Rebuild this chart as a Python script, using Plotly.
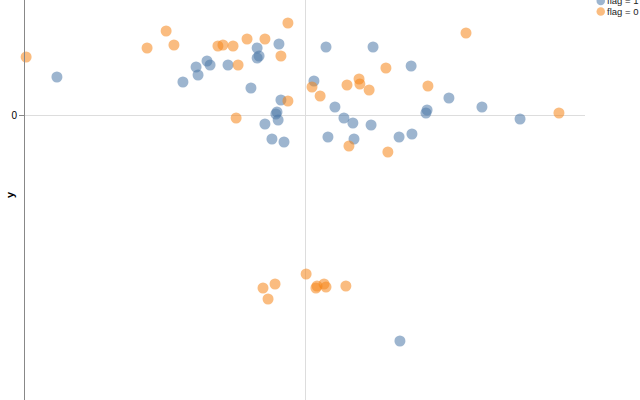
import plotly.graph_objects as go

# flag = 1 series
x_flag1 = [-8.86, -4.36, -3.89, -3.82, -3.5, -3.39, -2.75, -1.93, -1.71, -1.71, -1.64,
           -1.43, -1.18, -0.93, -0.86, -1.04, -1.0, -0.96, -0.75, 0.32, 0.75, 2.43,
           3.79, 5.14, 1.07, 6.32, 4.36, 4.32, 1.39, 1.71, 2.36, 7.68, 0.82, 1.75,
           3.36, 3.82, 3.39]
y_flag1 = [1.9, 1.65, 2.4, 2.0, 2.7, 2.5, 2.5, 1.35, 3.35, 2.85, 2.95,
           -0.45, -1.2, 3.55, 0.75, 0.05, 0.15, -0.25, -1.35, 1.7, 3.4, 3.4,
           2.45, 0.85, 0.4, 0.4, 0.25, 0.1, -0.15, -0.4, -0.5, -0.2, -1.1, -1.2,
           -1.1, -0.95, -11.3]

# flag = 0 series
x_flag0 = [-9.96, -5.64, -4.96, -4.68, -3.11, -2.93, -2.57, -2.39, -2.46, -2.07, -1.43,
           -0.86, -0.61, -0.61, 0.25, 0.54, 5.75, 2.89, 1.5, 1.93, 1.96, 2.29,
           4.39, 9.07, 1.57, 2.96, 0.04, -1.5, -1.07, -1.32, 0.39, 0.43, 0.68,
           0.75, 1.46]
y_flag0 = [2.9, 3.35, 4.2, 3.5, 3.45, 3.5, 3.45, 2.5, -0.15, 3.8, 3.8,
           2.95, 4.6, 0.7, 1.4, 0.95, 4.1, 2.35, 1.5, 1.8, 1.55, 1.25,
           1.45, 0.1, -1.55, -1.85, -7.95, -8.65, -8.45, -9.2, -8.65, -8.55, -8.45,
           -8.6, -8.55]

legend_labels = ["flag = 1", "flag = 0"]
colors = ["#4c78a8", "#f58518"]

fig = go.Figure()
for xs, ys, name, c in [(x_flag1, y_flag1, legend_labels[0], colors[0]),
                        (x_flag0, y_flag0, legend_labels[1], colors[1])]:
    fig.add_trace(go.Scatter(x=xs, y=ys, mode="markers", name=name,
                             marker=dict(size=11, color=c, opacity=0.55, line=dict(width=0)),
                             cliponaxis=False, showlegend=False))

W, H = 640, 400
L, R, T, B = 25, 55, 0, 0
pw, ph = W - L - R, H - T - B

def px(x):
    return (x - L) / pw

def py(y):
    return (H - B - y) / ph

# manual legend
for i, (lab, c) in enumerate(zip(legend_labels, colors)):
    cy = 1 + 10.5 * i
    fig.add_shape(type="circle", xref="paper", yref="paper",
                  x0=px(596.5), x1=px(605), y0=py(cy + 4.25), y1=py(cy - 4.25),
                  fillcolor=c, opacity=0.55, line=dict(width=0))
    fig.add_annotation(xref="paper", yref="paper", x=px(606), y=py(cy),
                       xanchor="left", yanchor="middle", text=lab, showarrow=False,
                       borderpad=0,
                       font=dict(size=9.5, color="#222", family="Liberation Sans, Arial, sans-serif"))

fig.add_annotation(xref="paper", yref="paper", x=px(10), y=py(195), text="<b>y</b>",
                   textangle=-90, showarrow=False, xanchor="center", yanchor="middle",
                   font=dict(size=11, color="#000", family="Liberation Sans, Arial, sans-serif"))

fig.update_layout(
    width=W, height=H, margin=dict(l=L, r=R, t=T, b=B, pad=0, autoexpand=False),
    plot_bgcolor="white", paper_bgcolor="white",
    font=dict(family="Liberation Sans, Arial, sans-serif", size=10, color="#000"),
    xaxis=dict(range=[-10, 10], tickvals=[0], showticklabels=False, showgrid=True,
               gridcolor="#dddddd", gridwidth=1, zeroline=False, showline=False, ticks="",
               automargin=False),
    yaxis=dict(range=[-14.25, 5.75], tickvals=[0], showgrid=True, gridcolor="#dddddd",
               gridwidth=1, zeroline=False, showline=True, linecolor="#888888", linewidth=1,
               ticks="outside", ticklen=5, tickcolor="#888888", tickfont=dict(size=10),
               automargin=False),
)

fig.write_html("out.html", config={"displayModeBar": False},
               post_script="document.body.style.margin='0';")
